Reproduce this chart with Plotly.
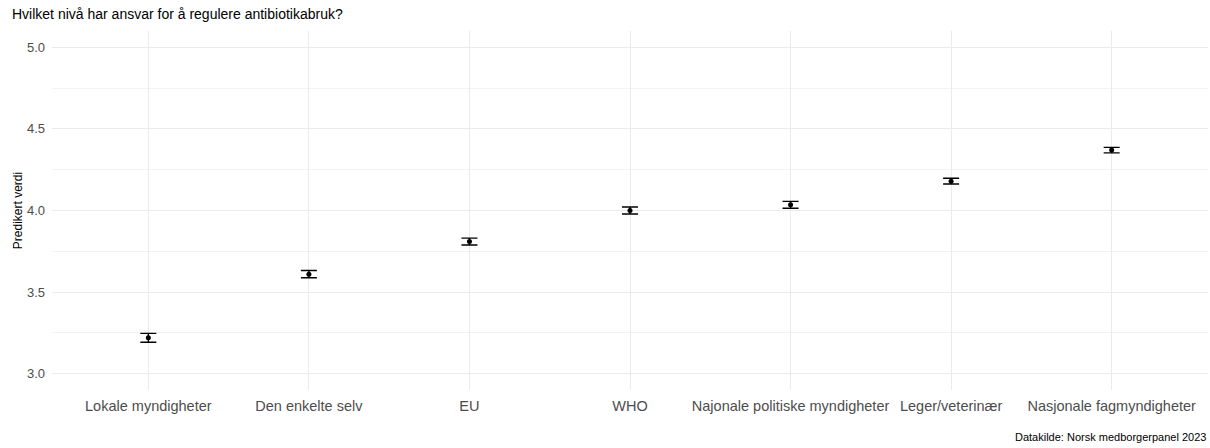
import plotly.graph_objects as go

categories = [
    "Lokale myndigheter",
    "Den enkelte selv",
    "EU",
    "WHO",
    "Najonale politiske myndigheter",
    "Leger/veterinær",
    "Nasjonale fagmyndigheter",
]
predicted = [3.22, 3.61, 3.81, 4.00, 4.035, 4.18, 4.37]
ci_half = [0.027, 0.022, 0.021, 0.021, 0.021, 0.018, 0.017]

y_ticks = [3.0, 3.5, 4.0, 4.5, 5.0]
y_tick_text = ["3.0", "3.5", "4.0", "4.5", "5.0"]

FONT = "Liberation Sans, Arial, sans-serif"
GRID = "#ebebeb"

fig = go.Figure()
fig.add_trace(go.Scatter(
    x=list(range(len(categories))),
    y=predicted,
    mode="markers",
    marker=dict(color="black", size=5),
    error_y=dict(type="data", array=ci_half, visible=True,
                 color="black", thickness=1.4, width=8),
    showlegend=False,
))

fig.update_layout(
    width=1210, height=448,
    margin=dict(l=52, r=2, t=31, b=58),
    paper_bgcolor="white", plot_bgcolor="white",
    font=dict(family=FONT, color="#4d4d4d"),
    title=dict(text="Hvilket nivå har ansvar for å regulere antibiotikabruk?",
               x=12 / 1210, xanchor="left", y=1 - 14 / 448, yanchor="middle",
               font=dict(size=14, color="black", family=FONT)),
    xaxis=dict(
        range=[-0.6, len(categories) - 0.4],
        tickmode="array", tickvals=list(range(len(categories))), ticktext=categories,
        showgrid=True, gridcolor=GRID, gridwidth=1, zeroline=False,
        showline=False, ticks="", tickfont=dict(size=14.5, color="#4d4d4d"),
        ticklabelstandoff=5,
    ),
    yaxis=dict(
        range=[2.9, 5.1],
        tickmode="array", tickvals=y_ticks, ticktext=y_tick_text,
        showgrid=True, gridcolor=GRID, gridwidth=1, zeroline=False,
        showline=False, ticks="", tickfont=dict(size=13, color="#4d4d4d"),
        ticklabelstandoff=6,
        minor=dict(tickmode="array", tickvals=[3.25, 3.75, 4.25, 4.75],
                   showgrid=True, gridcolor="#f3f3f3", gridwidth=1),
        title=dict(text="Predikert verdi", font=dict(size=12, color="black"), standoff=1),
    ),
)

fig.add_annotation(
    text="Datakilde: Norsk medborgerpanel 2023",
    xref="paper", yref="paper", x=1, y=-(437 - 390) / 359,
    xanchor="right", yanchor="middle", showarrow=False,
    font=dict(size=11, color="black", family=FONT),
)

fig.write_html("out.html")
